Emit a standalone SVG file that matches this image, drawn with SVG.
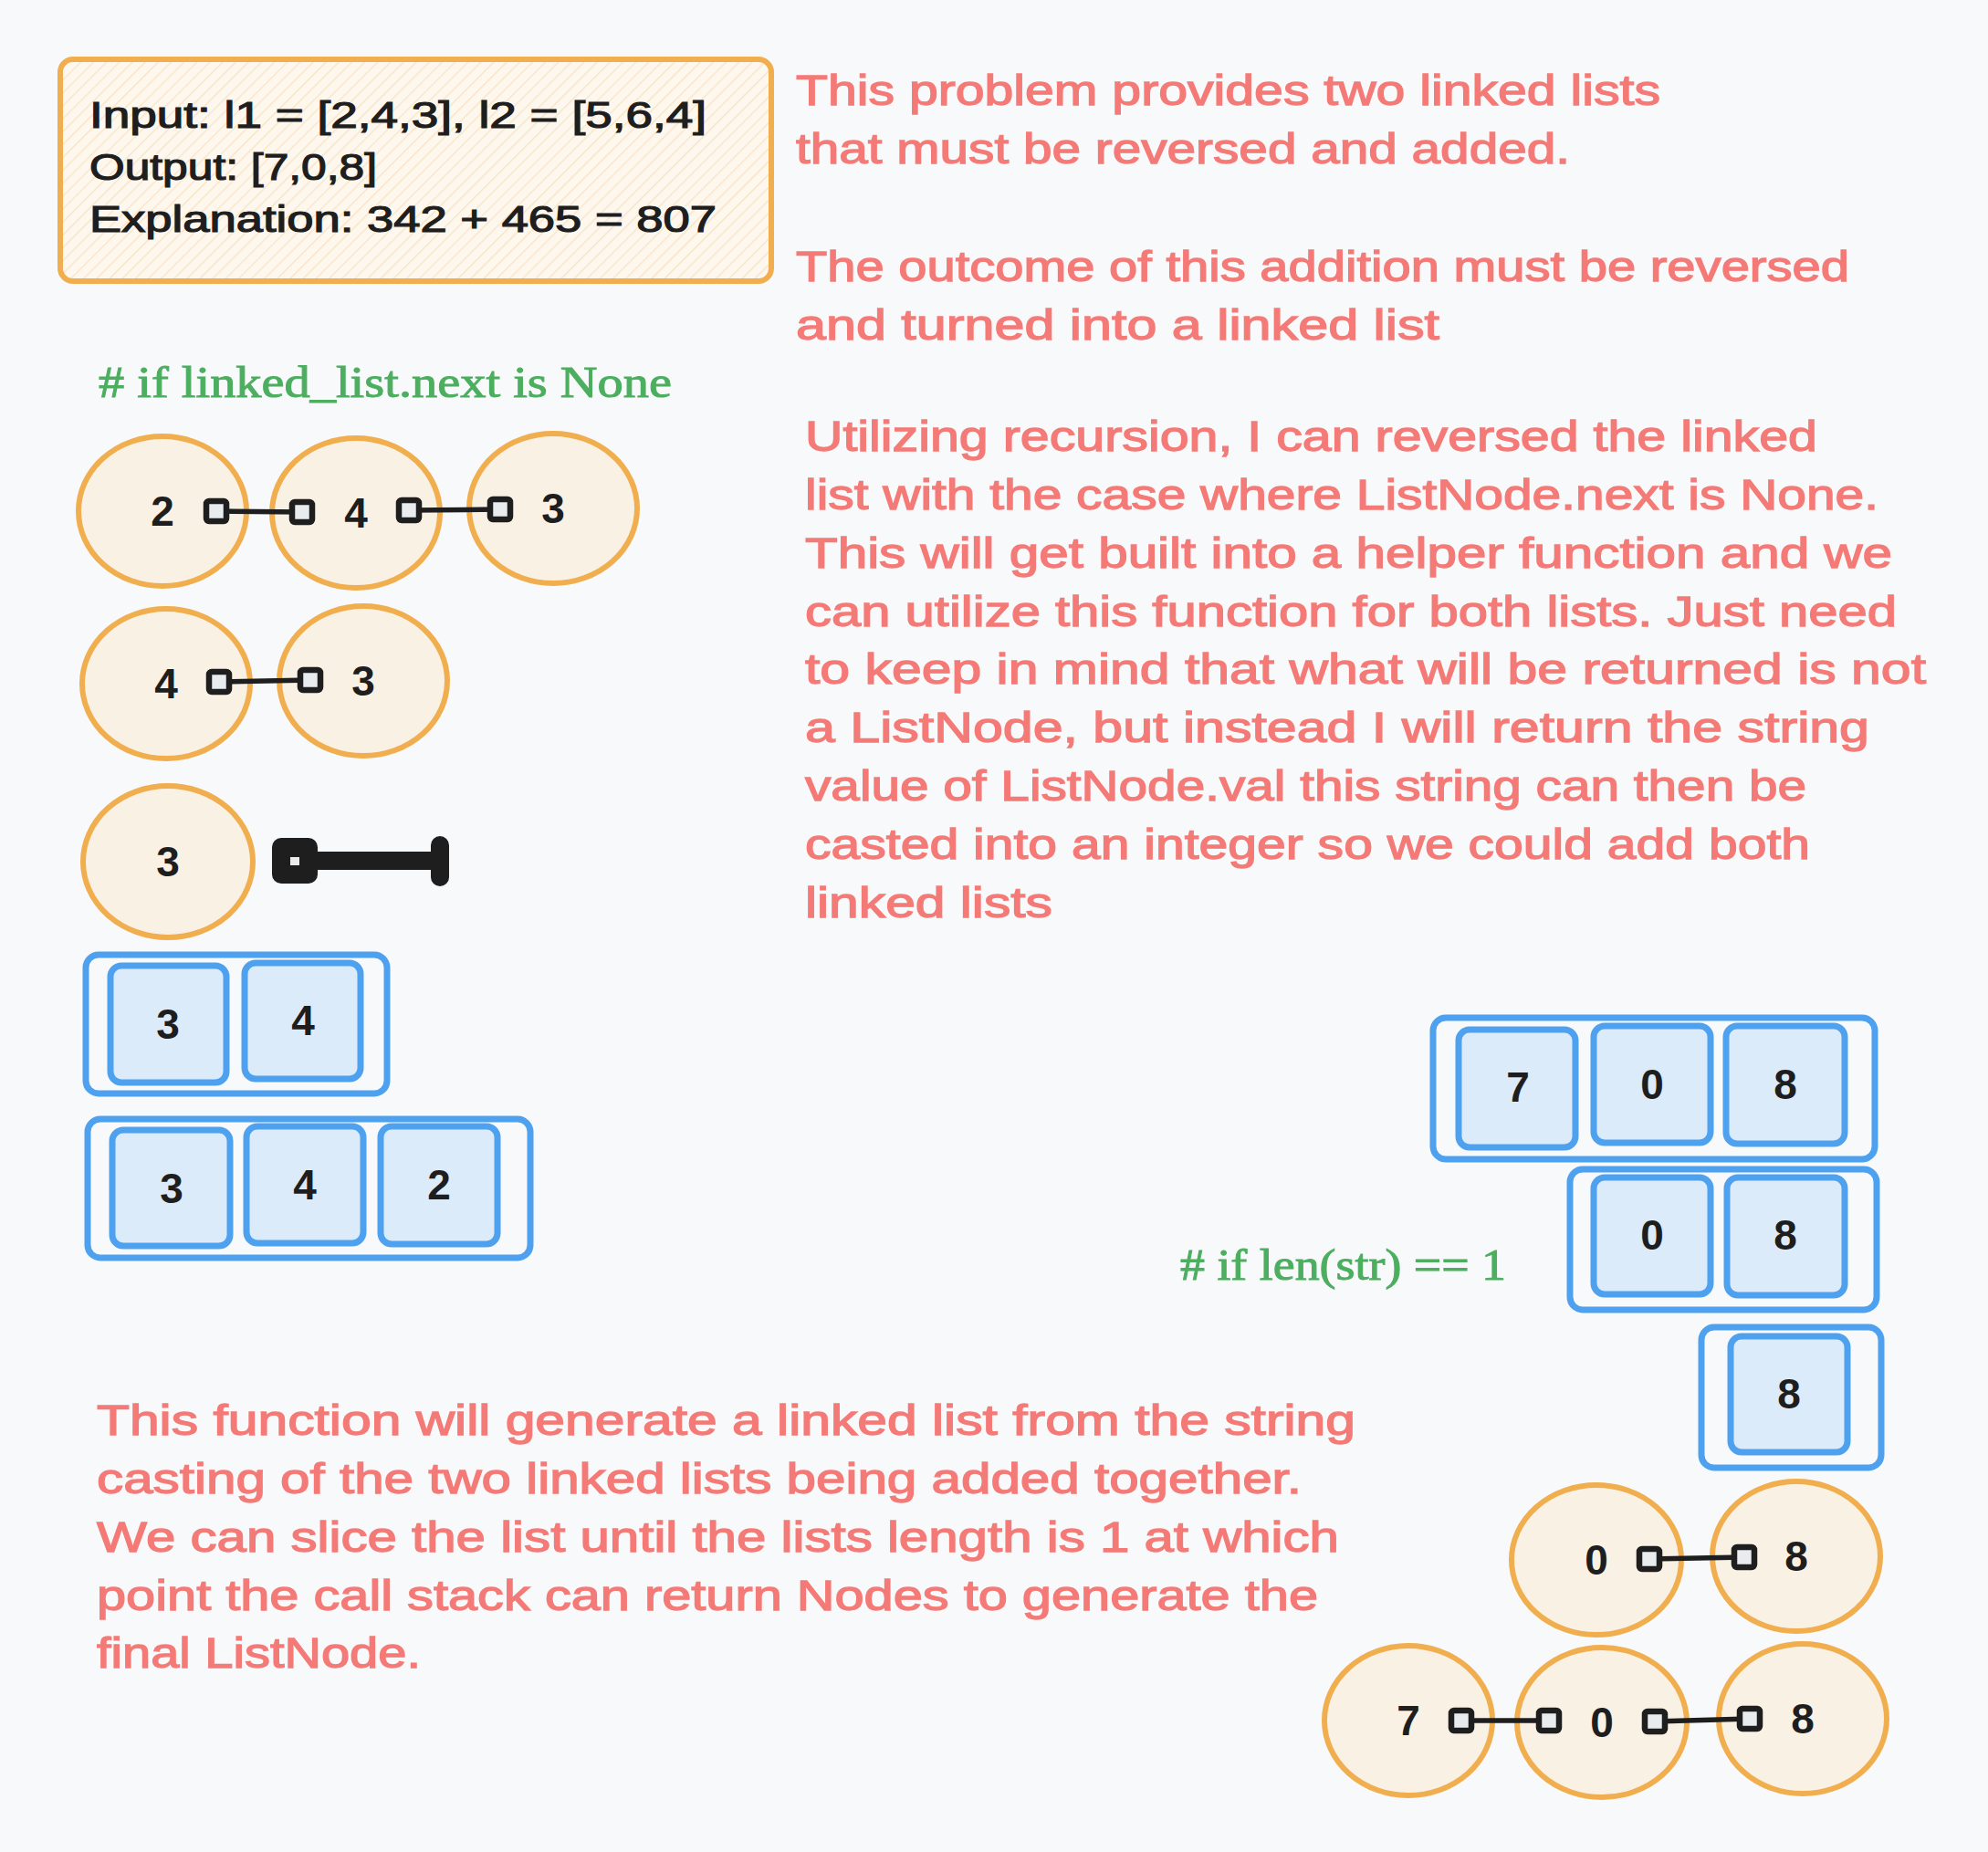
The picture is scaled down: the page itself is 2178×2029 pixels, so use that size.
<svg xmlns="http://www.w3.org/2000/svg" width="2178" height="2029" viewBox="0 0 2178 2029">
<style>
.bg{fill:#f8f9fb}
.hand{font-family:"Liberation Sans","Noto Sans",sans-serif}
.red{fill:#f47a77;stroke:#f47a77;stroke-width:1.3;font-size:46px}
.blk{fill:#1e1e1e;stroke:#1e1e1e;stroke-width:1.2;font-size:40px}
.num{fill:#1e1e1e;font-size:46px;font-weight:bold;text-anchor:middle}
.green{fill:#4cae5f;stroke:#4cae5f;stroke-width:1;font-family:"Liberation Serif","DejaVu Serif",serif;font-size:49px}
.node{fill:#faf1e5;stroke:#f1ae4e;stroke-width:6}
.frame{fill:none;stroke:#4ea1ee;stroke-width:7}
.cell{fill:#dcebfa;stroke:#4ea1ee;stroke-width:7}
.sq{fill:#e9ecef;stroke:#1e1e1e;stroke-width:6.5}
.ln{stroke:#1e1e1e;stroke-width:5.5;fill:none}
</style>
<defs>
<pattern id="hatch" width="10" height="10" patternUnits="userSpaceOnUse" patternTransform="rotate(45)">
<rect width="10" height="10" fill="#fdf7ee"/>
<line x1="0" y1="0" x2="0" y2="10" stroke="#f8e3c4" stroke-width="2.5"/>
</pattern>
</defs>
<rect class="bg" x="0" y="0" width="2178" height="2029"/>

<g id="input-box">
<rect x="66" y="65" width="779" height="243" rx="14" fill="url(#hatch)" stroke="#f1ae4e" stroke-width="6"/>
<text class="hand blk" x="98" y="140" textLength="676" lengthAdjust="spacingAndGlyphs">Input: l1 = [2,4,3], l2 = [5,6,4]</text>
<text class="hand blk" x="98" y="197" textLength="315" lengthAdjust="spacingAndGlyphs">Output: [7,0,8]</text>
<text class="hand blk" x="98" y="254" textLength="687" lengthAdjust="spacingAndGlyphs">Explanation: 342 + 465 = 807</text>
</g>

<g id="note-problem">
<text class="hand red" x="872" y="115" textLength="947" lengthAdjust="spacingAndGlyphs">This problem provides two linked lists</text>
<text class="hand red" x="872" y="179" textLength="848" lengthAdjust="spacingAndGlyphs">that must be reversed and added.</text>
<text class="hand red" x="872" y="308" textLength="1154" lengthAdjust="spacingAndGlyphs">The outcome of this addition must be reversed</text>
<text class="hand red" x="872" y="372" textLength="705" lengthAdjust="spacingAndGlyphs">and turned into a linked list</text>
</g>

<g id="note-recursion">
<text class="hand red" x="882" y="494" textLength="1109" lengthAdjust="spacingAndGlyphs">Utilizing recursion, I can reversed the linked</text>
<text class="hand red" x="882" y="558" textLength="1176" lengthAdjust="spacingAndGlyphs">list with the case where ListNode.next is None.</text>
<text class="hand red" x="882" y="622" textLength="1191" lengthAdjust="spacingAndGlyphs">This will get built into a helper function and we</text>
<text class="hand red" x="882" y="686" textLength="1196" lengthAdjust="spacingAndGlyphs">can utilize this function for both lists. Just need</text>
<text class="hand red" x="882" y="749" textLength="1228" lengthAdjust="spacingAndGlyphs">to keep in mind that what will be returned is not</text>
<text class="hand red" x="882" y="813" textLength="1166" lengthAdjust="spacingAndGlyphs">a ListNode, but instead I will return the string</text>
<text class="hand red" x="882" y="877" textLength="1097" lengthAdjust="spacingAndGlyphs">value of ListNode.val this string can then be</text>
<text class="hand red" x="882" y="941" textLength="1101" lengthAdjust="spacingAndGlyphs">casted into an integer so we could add both</text>
<text class="hand red" x="882" y="1005" textLength="271" lengthAdjust="spacingAndGlyphs">linked lists</text>
</g>

<g id="note-generate">
<text class="hand red" x="106" y="1572" textLength="1379" lengthAdjust="spacingAndGlyphs">This function will generate a linked list from the string</text>
<text class="hand red" x="106" y="1636" textLength="1320" lengthAdjust="spacingAndGlyphs">casting of the two linked lists being added together.</text>
<text class="hand red" x="106" y="1700" textLength="1361" lengthAdjust="spacingAndGlyphs">We can slice the list until the lists length is 1 at which</text>
<text class="hand red" x="106" y="1764" textLength="1338" lengthAdjust="spacingAndGlyphs">point the call stack can return Nodes to generate the</text>
<text class="hand red" x="106" y="1827" textLength="355" lengthAdjust="spacingAndGlyphs">final ListNode.</text>
</g>

<g id="comment-next">
<text class="green" x="108" y="435" textLength="628" lengthAdjust="spacingAndGlyphs"># if linked_list.next is None</text>
</g>
<g id="comment-len">
<text class="green" x="1293" y="1402" textLength="357" lengthAdjust="spacingAndGlyphs"># if len(str) == 1</text>
</g>

<g id="l1-n2"><ellipse class="node" cx="178" cy="560" rx="92" ry="82"/><text class="hand num" x="178" y="576">2</text></g>
<g id="l1-n4"><ellipse class="node" cx="390" cy="562" rx="92" ry="82"/><text class="hand num" x="390" y="578">4</text></g>
<g id="l1-n3"><ellipse class="node" cx="606" cy="557" rx="92" ry="82"/><text class="hand num" x="606" y="573">3</text></g>
<g id="l2-n4"><ellipse class="node" cx="182" cy="749" rx="92" ry="82"/><text class="hand num" x="182" y="765">4</text></g>
<g id="l2-n3"><ellipse class="node" cx="398" cy="746" rx="92" ry="82"/><text class="hand num" x="398" y="762">3</text></g>
<g id="l3-n3"><ellipse class="node" cx="184" cy="944" rx="93" ry="83"/><text class="hand num" x="184" y="960">3</text></g>

<g id="arr-34">
<rect class="frame" x="94" y="1046" width="330" height="152" rx="14"/>
<rect class="cell" x="121" y="1058" width="127" height="128" rx="12"/><text class="hand num" x="184" y="1138">3</text>
<rect class="cell" x="268" y="1055" width="127" height="127" rx="12"/><text class="hand num" x="332" y="1134">4</text>
</g>
<g id="arr-342">
<rect class="frame" x="96" y="1226" width="485" height="152" rx="14"/>
<rect class="cell" x="123" y="1238" width="129" height="127" rx="12"/><text class="hand num" x="188" y="1318">3</text>
<rect class="cell" x="270" y="1234" width="128" height="128" rx="12"/><text class="hand num" x="334" y="1314">4</text>
<rect class="cell" x="417" y="1234" width="128" height="129" rx="12"/><text class="hand num" x="481" y="1314">2</text>
</g>

<g id="arr-708">
<rect class="frame" x="1570" y="1115" width="484" height="155" rx="14"/>
<rect class="cell" x="1598" y="1128" width="128" height="129" rx="12"/><text class="hand num" x="1663" y="1207">7</text>
<rect class="cell" x="1746" y="1124" width="128" height="128" rx="12"/><text class="hand num" x="1810" y="1204">0</text>
<rect class="cell" x="1891" y="1124" width="130" height="129" rx="12"/><text class="hand num" x="1956" y="1204">8</text>
</g>
<g id="arr-08">
<rect class="frame" x="1720" y="1281" width="336" height="154" rx="14"/>
<rect class="cell" x="1746" y="1290" width="128" height="128" rx="12"/><text class="hand num" x="1810" y="1369">0</text>
<rect class="cell" x="1892" y="1290" width="129" height="129" rx="12"/><text class="hand num" x="1956" y="1369">8</text>
</g>
<g id="arr-8">
<rect class="frame" x="1864" y="1454" width="197" height="154" rx="14"/>
<rect class="cell" x="1896" y="1464" width="128" height="127" rx="12"/><text class="hand num" x="1960" y="1543">8</text>
</g>

<g id="r2-n0"><ellipse class="node" cx="1749" cy="1709" rx="93" ry="82"/><text class="hand num" x="1749" y="1725">0</text></g>
<g id="r2-n8"><ellipse class="node" cx="1968" cy="1705" rx="92" ry="82"/><text class="hand num" x="1968" y="1721">8</text></g>
<g id="r3-n7"><ellipse class="node" cx="1543" cy="1885" rx="92" ry="82"/><text class="hand num" x="1543" y="1901">7</text></g>
<g id="r3-n0"><ellipse class="node" cx="1755" cy="1887" rx="93" ry="82"/><text class="hand num" x="1755" y="1903">0</text></g>
<g id="r3-n8"><ellipse class="node" cx="1975" cy="1883" rx="92" ry="82"/><text class="hand num" x="1975" y="1899">8</text></g>

<g id="connectors">
<line class="ln" x1="237" y1="560" x2="331" y2="561"/>
<rect class="sq" x="226" y="549" width="22" height="22" rx="3"/>
<rect class="sq" x="320" y="550" width="22" height="22" rx="3"/>
<line class="ln" x1="448" y1="559" x2="548" y2="558"/>
<rect class="sq" x="437" y="548" width="22" height="22" rx="3"/>
<rect class="sq" x="537" y="547" width="22" height="22" rx="3"/>
<line class="ln" x1="240" y1="747" x2="340" y2="745"/>
<rect class="sq" x="229" y="736" width="22" height="22" rx="3"/>
<rect class="sq" x="329" y="734" width="22" height="22" rx="3"/>
<line x1="330" y1="943" x2="482" y2="943" stroke="#1e1e1e" stroke-width="20"/>
<rect x="298" y="918" width="50" height="50" rx="10" fill="#1e1e1e"/>
<rect x="318" y="939" width="10" height="9" fill="#e9ecef"/>
<line x1="482" y1="926" x2="482" y2="961" stroke="#1e1e1e" stroke-width="20" stroke-linecap="round"/>
<line class="ln" x1="1807" y1="1708" x2="1911" y2="1706"/>
<rect class="sq" x="1796" y="1697" width="22" height="22" rx="3"/>
<rect class="sq" x="1900" y="1695" width="22" height="22" rx="3"/>
<line class="ln" x1="1601" y1="1885" x2="1697" y2="1885"/>
<rect class="sq" x="1590" y="1874" width="22" height="22" rx="3"/>
<rect class="sq" x="1686" y="1874" width="22" height="22" rx="3"/>
<line class="ln" x1="1813" y1="1886" x2="1917" y2="1883"/>
<rect class="sq" x="1802" y="1875" width="22" height="22" rx="3"/>
<rect class="sq" x="1906" y="1872" width="22" height="22" rx="3"/>
</g>
</svg>
